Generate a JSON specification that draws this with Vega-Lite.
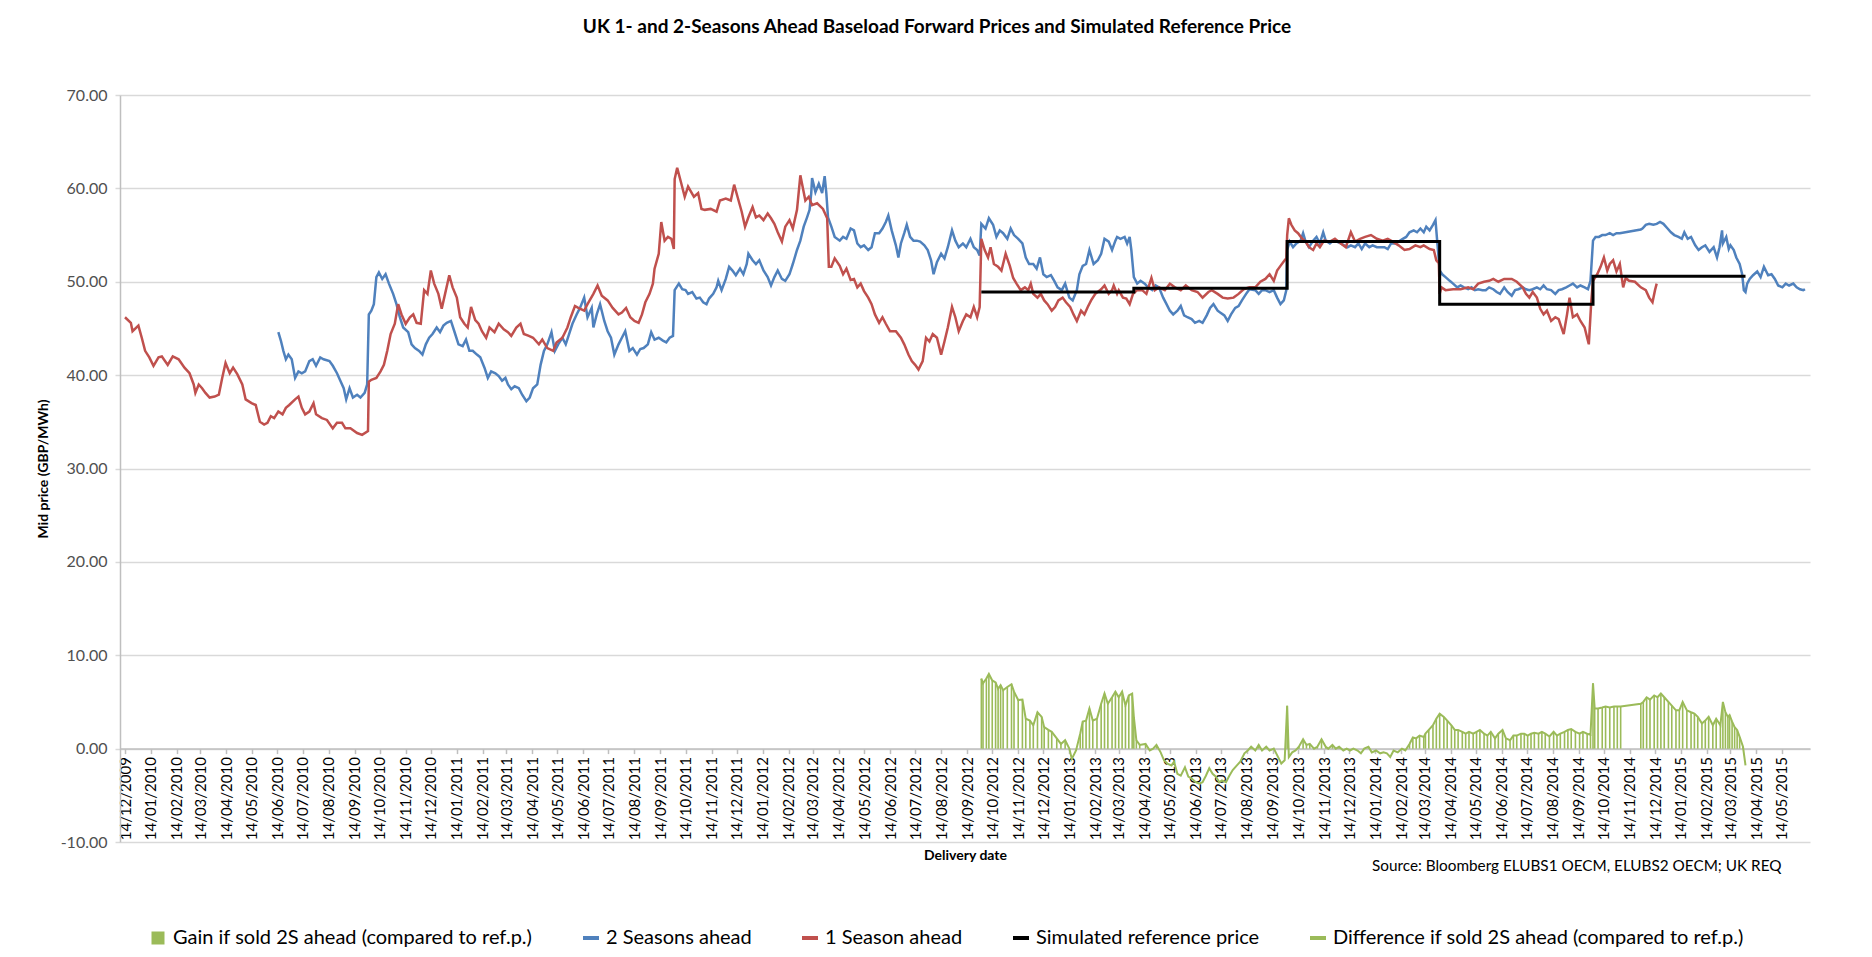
{
  "$schema": "https://vega.github.io/schema/vega-lite/v6.json",
  "autosize": "none",
  "width": 1690,
  "height": 747,
  "padding": {"left": 120, "top": 95, "right": 62, "bottom": 115},
  "background": "white",
  "config": {"font": "Lato", "view": {"stroke": null}},
  "title": {"text": "UK 1- and 2-Seasons Ahead Baseload Forward Prices and Simulated Reference Price", "fontSize": 19, "font": "Lato", "fontWeight": "bold", "color": "#000000", "anchor": "middle", "offset": 50, "dx": -28},
  "datasets": {
    "red": [
      {"d":"2009-12-14","v":46.2},{"d":"2009-12-21","v":45.6},{"d":"2009-12-23","v":44.7},{"d":"2009-12-30","v":45.3},{"d":"2010-01-03","v":44.0},{"d":"2010-01-07","v":42.6},{"d":"2010-01-12","v":41.9},{"d":"2010-01-17","v":41.0},{"d":"2010-01-23","v":41.9},{"d":"2010-01-27","v":42.0},{"d":"2010-02-03","v":41.1},{"d":"2010-02-09","v":42.0},{"d":"2010-02-16","v":41.7},{"d":"2010-02-23","v":40.8},{"d":"2010-03-01","v":40.2},{"d":"2010-03-06","v":39.0},{"d":"2010-03-08","v":38.1},{"d":"2010-03-12","v":39.0},{"d":"2010-03-16","v":38.6},{"d":"2010-03-20","v":38.1},{"d":"2010-03-25","v":37.6},{"d":"2010-03-31","v":37.7},{"d":"2010-04-05","v":37.9},{"d":"2010-04-09","v":39.7},{"d":"2010-04-13","v":41.3},{"d":"2010-04-18","v":40.2},{"d":"2010-04-22","v":40.8},{"d":"2010-04-27","v":40.1},{"d":"2010-05-03","v":39.0},{"d":"2010-05-07","v":37.4},{"d":"2010-05-14","v":37.0},{"d":"2010-05-19","v":36.8},{"d":"2010-05-24","v":35.0},{"d":"2010-05-29","v":34.7},{"d":"2010-06-02","v":34.9},{"d":"2010-06-06","v":35.6},{"d":"2010-06-10","v":35.4},{"d":"2010-06-15","v":36.1},{"d":"2010-06-20","v":35.8},{"d":"2010-06-24","v":36.5},{"d":"2010-06-28","v":36.8},{"d":"2010-07-05","v":37.4},{"d":"2010-07-09","v":37.7},{"d":"2010-07-13","v":36.5},{"d":"2010-07-17","v":35.8},{"d":"2010-07-22","v":36.1},{"d":"2010-07-27","v":37.0},{"d":"2010-07-30","v":35.8},{"d":"2010-08-06","v":35.4},{"d":"2010-08-12","v":35.2},{"d":"2010-08-19","v":34.3},{"d":"2010-08-24","v":34.9},{"d":"2010-08-30","v":34.9},{"d":"2010-09-03","v":34.3},{"d":"2010-09-09","v":34.3},{"d":"2010-09-17","v":33.8},{"d":"2010-09-23","v":33.6},{"d":"2010-09-30","v":34.0},{"d":"2010-10-01","v":39.3},{"d":"2010-10-04","v":39.5},{"d":"2010-10-10","v":39.7},{"d":"2010-10-15","v":40.4},{"d":"2010-10-19","v":41.1},{"d":"2010-10-23","v":42.6},{"d":"2010-10-27","v":44.4},{"d":"2010-11-01","v":45.5},{"d":"2010-11-05","v":47.6},{"d":"2010-11-09","v":46.5},{"d":"2010-11-14","v":45.5},{"d":"2010-11-19","v":46.2},{"d":"2010-11-23","v":46.5},{"d":"2010-11-27","v":45.6},{"d":"2010-12-02","v":45.5},{"d":"2010-12-06","v":49.1},{"d":"2010-12-10","v":48.7},{"d":"2010-12-14","v":51.2},{"d":"2010-12-18","v":49.8},{"d":"2010-12-23","v":48.7},{"d":"2010-12-27","v":47.1},{"d":"2010-12-31","v":48.7},{"d":"2011-01-05","v":50.7},{"d":"2011-01-09","v":49.4},{"d":"2011-01-14","v":48.3},{"d":"2011-01-18","v":46.2},{"d":"2011-01-23","v":45.5},{"d":"2011-01-27","v":45.1},{"d":"2011-01-31","v":47.3},{"d":"2011-02-05","v":45.9},{"d":"2011-02-09","v":45.5},{"d":"2011-02-13","v":44.7},{"d":"2011-02-18","v":44.0},{"d":"2011-02-22","v":45.1},{"d":"2011-02-28","v":44.6},{"d":"2011-03-05","v":45.5},{"d":"2011-03-11","v":44.9},{"d":"2011-03-16","v":44.6},{"d":"2011-03-20","v":44.2},{"d":"2011-03-26","v":45.1},{"d":"2011-03-31","v":45.5},{"d":"2011-04-04","v":44.4},{"d":"2011-04-10","v":44.2},{"d":"2011-04-15","v":44.0},{"d":"2011-04-22","v":43.3},{"d":"2011-04-26","v":43.8},{"d":"2011-05-02","v":42.9},{"d":"2011-05-09","v":42.6},{"d":"2011-05-13","v":43.5},{"d":"2011-05-20","v":44.0},{"d":"2011-05-26","v":45.1},{"d":"2011-05-30","v":46.2},{"d":"2011-06-04","v":47.4},{"d":"2011-06-08","v":47.2},{"d":"2011-06-15","v":46.9},{"d":"2011-06-19","v":47.6},{"d":"2011-06-26","v":48.7},{"d":"2011-07-01","v":49.6},{"d":"2011-07-06","v":48.5},{"d":"2011-07-13","v":48.0},{"d":"2011-07-19","v":47.2},{"d":"2011-07-26","v":46.5},{"d":"2011-07-30","v":46.7},{"d":"2011-08-04","v":47.2},{"d":"2011-08-09","v":46.2},{"d":"2011-08-14","v":45.8},{"d":"2011-08-19","v":45.6},{"d":"2011-08-23","v":46.5},{"d":"2011-08-27","v":47.8},{"d":"2011-09-01","v":48.7},{"d":"2011-09-05","v":49.8},{"d":"2011-09-07","v":51.4},{"d":"2011-09-12","v":53.0},{"d":"2011-09-15","v":56.4},{"d":"2011-09-19","v":54.4},{"d":"2011-09-23","v":54.8},{"d":"2011-09-27","v":54.6},{"d":"2011-09-30","v":53.5},{"d":"2011-10-01","v":61.0},{"d":"2011-10-04","v":62.2},{"d":"2011-10-09","v":60.5},{"d":"2011-10-13","v":59.1},{"d":"2011-10-17","v":60.2},{"d":"2011-10-24","v":59.1},{"d":"2011-10-29","v":59.5},{"d":"2011-11-02","v":57.8},{"d":"2011-11-06","v":57.7},{"d":"2011-11-13","v":57.8},{"d":"2011-11-20","v":57.5},{"d":"2011-11-24","v":58.7},{"d":"2011-12-01","v":58.9},{"d":"2011-12-07","v":58.7},{"d":"2011-12-11","v":60.4},{"d":"2011-12-15","v":59.1},{"d":"2011-12-20","v":57.5},{"d":"2011-12-24","v":55.9},{"d":"2011-12-28","v":56.9},{"d":"2012-01-02","v":58.0},{"d":"2012-01-06","v":56.9},{"d":"2012-01-10","v":57.1},{"d":"2012-01-15","v":56.6},{"d":"2012-01-20","v":57.3},{"d":"2012-01-24","v":56.8},{"d":"2012-01-28","v":56.2},{"d":"2012-02-01","v":55.3},{"d":"2012-02-06","v":54.3},{"d":"2012-02-10","v":55.9},{"d":"2012-02-15","v":56.6},{"d":"2012-02-19","v":55.7},{"d":"2012-02-24","v":57.7},{"d":"2012-02-28","v":61.4},{"d":"2012-03-01","v":60.5},{"d":"2012-03-05","v":58.7},{"d":"2012-03-09","v":59.1},{"d":"2012-03-13","v":58.2},{"d":"2012-03-19","v":58.4},{"d":"2012-03-26","v":57.8},{"d":"2012-03-31","v":56.8},{"d":"2012-04-02","v":51.6},{"d":"2012-04-05","v":51.6},{"d":"2012-04-09","v":52.5},{"d":"2012-04-15","v":51.7},{"d":"2012-04-19","v":50.8},{"d":"2012-04-23","v":51.4},{"d":"2012-04-28","v":50.2},{"d":"2012-05-02","v":50.3},{"d":"2012-05-06","v":49.4},{"d":"2012-05-10","v":49.8},{"d":"2012-05-14","v":49.0},{"d":"2012-05-19","v":48.3},{"d":"2012-05-23","v":47.6},{"d":"2012-05-27","v":46.5},{"d":"2012-06-01","v":45.6},{"d":"2012-06-05","v":46.2},{"d":"2012-06-09","v":45.5},{"d":"2012-06-14","v":44.7},{"d":"2012-06-21","v":44.7},{"d":"2012-06-27","v":44.0},{"d":"2012-07-01","v":43.3},{"d":"2012-07-06","v":42.2},{"d":"2012-07-10","v":41.5},{"d":"2012-07-14","v":41.1},{"d":"2012-07-18","v":40.6},{"d":"2012-07-23","v":41.5},{"d":"2012-07-27","v":44.0},{"d":"2012-07-31","v":43.6},{"d":"2012-08-04","v":44.4},{"d":"2012-08-09","v":44.0},{"d":"2012-08-14","v":42.2},{"d":"2012-08-18","v":43.6},{"d":"2012-08-22","v":45.1},{"d":"2012-08-27","v":47.3},{"d":"2012-08-31","v":46.2},{"d":"2012-09-04","v":44.7},{"d":"2012-09-09","v":45.8},{"d":"2012-09-13","v":46.5},{"d":"2012-09-18","v":46.2},{"d":"2012-09-22","v":47.3},{"d":"2012-09-26","v":46.2},{"d":"2012-09-29","v":47.3},{"d":"2012-10-01","v":54.6},{"d":"2012-10-05","v":53.4},{"d":"2012-10-09","v":52.6},{"d":"2012-10-12","v":53.7},{"d":"2012-10-16","v":51.9},{"d":"2012-10-21","v":51.6},{"d":"2012-10-25","v":51.2},{"d":"2012-10-30","v":53.0},{"d":"2012-11-04","v":51.7},{"d":"2012-11-08","v":50.4},{"d":"2012-11-12","v":49.8},{"d":"2012-11-17","v":49.1},{"d":"2012-11-22","v":49.4},{"d":"2012-11-26","v":49.1},{"d":"2012-11-29","v":49.8},{"d":"2012-12-02","v":48.7},{"d":"2012-12-07","v":48.3},{"d":"2012-12-11","v":48.7},{"d":"2012-12-15","v":48.0},{"d":"2012-12-19","v":47.6},{"d":"2012-12-24","v":46.9},{"d":"2012-12-28","v":47.3},{"d":"2013-01-01","v":48.0},{"d":"2013-01-06","v":48.3},{"d":"2013-01-10","v":47.8},{"d":"2013-01-15","v":47.3},{"d":"2013-01-19","v":46.5},{"d":"2013-01-23","v":45.8},{"d":"2013-01-28","v":46.9},{"d":"2013-02-01","v":46.5},{"d":"2013-02-05","v":47.3},{"d":"2013-02-09","v":48.0},{"d":"2013-02-14","v":48.7},{"d":"2013-02-21","v":49.2},{"d":"2013-02-25","v":49.6},{"d":"2013-03-02","v":48.7},{"d":"2013-03-06","v":49.1},{"d":"2013-03-08","v":49.6},{"d":"2013-03-12","v":48.7},{"d":"2013-03-14","v":49.1},{"d":"2013-03-19","v":48.3},{"d":"2013-03-23","v":48.2},{"d":"2013-03-27","v":47.6},{"d":"2013-03-31","v":48.7},{"d":"2013-04-05","v":49.1},{"d":"2013-04-11","v":49.1},{"d":"2013-04-16","v":48.7},{"d":"2013-04-22","v":50.4},{"d":"2013-04-26","v":49.1},{"d":"2013-05-01","v":49.4},{"d":"2013-05-08","v":49.1},{"d":"2013-05-14","v":49.8},{"d":"2013-05-20","v":49.4},{"d":"2013-05-27","v":49.1},{"d":"2013-06-02","v":49.6},{"d":"2013-06-09","v":49.1},{"d":"2013-06-16","v":48.9},{"d":"2013-06-22","v":48.3},{"d":"2013-06-29","v":48.9},{"d":"2013-07-03","v":49.1},{"d":"2013-07-10","v":48.7},{"d":"2013-07-16","v":48.3},{"d":"2013-07-22","v":48.2},{"d":"2013-07-29","v":48.3},{"d":"2013-08-04","v":48.7},{"d":"2013-08-10","v":49.2},{"d":"2013-08-17","v":49.4},{"d":"2013-08-24","v":49.4},{"d":"2013-08-30","v":50.0},{"d":"2013-09-05","v":50.3},{"d":"2013-09-10","v":50.8},{"d":"2013-09-15","v":50.1},{"d":"2013-09-19","v":51.2},{"d":"2013-09-23","v":51.7},{"d":"2013-09-28","v":52.3},{"d":"2013-09-30","v":52.5},{"d":"2013-10-01","v":55.0},{"d":"2013-10-03","v":56.8},{"d":"2013-10-06","v":56.1},{"d":"2013-10-10","v":55.5},{"d":"2013-10-14","v":55.2},{"d":"2013-10-19","v":54.6},{"d":"2013-10-23","v":54.3},{"d":"2013-10-27","v":53.7},{"d":"2013-11-01","v":53.4},{"d":"2013-11-05","v":54.1},{"d":"2013-11-09","v":53.7},{"d":"2013-11-14","v":54.4},{"d":"2013-11-21","v":54.3},{"d":"2013-11-27","v":54.6},{"d":"2013-12-04","v":54.1},{"d":"2013-12-10","v":53.7},{"d":"2013-12-16","v":55.3},{"d":"2013-12-21","v":54.3},{"d":"2013-12-27","v":54.6},{"d":"2014-01-02","v":54.8},{"d":"2014-01-09","v":55.0},{"d":"2014-01-16","v":54.6},{"d":"2014-01-23","v":54.4},{"d":"2014-01-29","v":54.6},{"d":"2014-02-04","v":54.3},{"d":"2014-02-11","v":53.9},{"d":"2014-02-18","v":53.4},{"d":"2014-02-24","v":53.5},{"d":"2014-03-03","v":53.9},{"d":"2014-03-09","v":53.7},{"d":"2014-03-13","v":53.9},{"d":"2014-03-20","v":53.5},{"d":"2014-03-25","v":53.4},{"d":"2014-03-28","v":52.3},{"d":"2014-03-31","v":52.0},{"d":"2014-04-01","v":48.7},{"d":"2014-04-03","v":49.4},{"d":"2014-04-08","v":49.1},{"d":"2014-04-17","v":49.2},{"d":"2014-04-26","v":49.2},{"d":"2014-05-05","v":49.4},{"d":"2014-05-11","v":49.2},{"d":"2014-05-17","v":49.8},{"d":"2014-05-24","v":50.0},{"d":"2014-05-30","v":50.1},{"d":"2014-06-04","v":50.3},{"d":"2014-06-10","v":50.0},{"d":"2014-06-17","v":50.3},{"d":"2014-06-26","v":50.3},{"d":"2014-07-02","v":50.0},{"d":"2014-07-09","v":49.4},{"d":"2014-07-13","v":48.7},{"d":"2014-07-17","v":48.3},{"d":"2014-07-21","v":48.9},{"d":"2014-07-26","v":48.3},{"d":"2014-07-30","v":47.1},{"d":"2014-08-03","v":46.5},{"d":"2014-08-07","v":46.9},{"d":"2014-08-12","v":45.8},{"d":"2014-08-17","v":46.2},{"d":"2014-08-21","v":46.0},{"d":"2014-08-27","v":44.4},{"d":"2014-08-31","v":46.5},{"d":"2014-09-03","v":48.3},{"d":"2014-09-07","v":46.2},{"d":"2014-09-12","v":46.5},{"d":"2014-09-16","v":45.8},{"d":"2014-09-21","v":45.1},{"d":"2014-09-24","v":44.0},{"d":"2014-09-26","v":43.3},{"d":"2014-09-29","v":48.0},{"d":"2014-10-01","v":50.1},{"d":"2014-10-06","v":50.8},{"d":"2014-10-10","v":51.6},{"d":"2014-10-14","v":52.6},{"d":"2014-10-18","v":51.2},{"d":"2014-10-21","v":51.9},{"d":"2014-10-25","v":52.3},{"d":"2014-10-29","v":51.1},{"d":"2014-11-02","v":51.9},{"d":"2014-11-06","v":49.4},{"d":"2014-11-09","v":50.4},{"d":"2014-11-13","v":50.1},{"d":"2014-11-20","v":50.0},{"d":"2014-11-27","v":49.4},{"d":"2014-12-03","v":49.1},{"d":"2014-12-07","v":48.3},{"d":"2014-12-11","v":47.8},{"d":"2014-12-14","v":49.1},{"d":"2014-12-16","v":49.8}
    ],
    "blue": [
      {"d":"2010-06-15","v":44.6},{"d":"2010-06-18","v":43.7},{"d":"2010-06-21","v":42.6},{"d":"2010-06-24","v":41.7},{"d":"2010-06-27","v":42.2},{"d":"2010-07-01","v":41.7},{"d":"2010-07-05","v":39.7},{"d":"2010-07-09","v":40.4},{"d":"2010-07-13","v":40.2},{"d":"2010-07-17","v":40.4},{"d":"2010-07-22","v":41.5},{"d":"2010-07-26","v":41.7},{"d":"2010-07-30","v":41.0},{"d":"2010-08-04","v":41.9},{"d":"2010-08-08","v":41.7},{"d":"2010-08-15","v":41.5},{"d":"2010-08-19","v":41.0},{"d":"2010-08-24","v":40.2},{"d":"2010-08-28","v":39.4},{"d":"2010-09-01","v":38.6},{"d":"2010-09-04","v":37.4},{"d":"2010-09-08","v":38.6},{"d":"2010-09-12","v":37.6},{"d":"2010-09-17","v":37.9},{"d":"2010-09-21","v":37.6},{"d":"2010-09-26","v":38.1},{"d":"2010-09-29","v":39.0},{"d":"2010-10-01","v":46.5},{"d":"2010-10-04","v":46.9},{"d":"2010-10-07","v":47.6},{"d":"2010-10-10","v":50.5},{"d":"2010-10-13","v":51.0},{"d":"2010-10-17","v":50.3},{"d":"2010-10-21","v":50.8},{"d":"2010-10-25","v":49.8},{"d":"2010-10-30","v":48.7},{"d":"2010-11-03","v":47.6},{"d":"2010-11-07","v":46.2},{"d":"2010-11-11","v":45.1},{"d":"2010-11-17","v":44.6},{"d":"2010-11-21","v":43.3},{"d":"2010-11-25","v":42.9},{"d":"2010-11-30","v":42.6},{"d":"2010-12-04","v":42.2},{"d":"2010-12-08","v":43.3},{"d":"2010-12-12","v":44.0},{"d":"2010-12-16","v":44.4},{"d":"2010-12-21","v":45.1},{"d":"2010-12-25","v":44.6},{"d":"2010-12-29","v":45.3},{"d":"2011-01-02","v":45.6},{"d":"2011-01-07","v":45.8},{"d":"2011-01-11","v":44.7},{"d":"2011-01-16","v":43.3},{"d":"2011-01-21","v":43.1},{"d":"2011-01-25","v":43.8},{"d":"2011-01-29","v":42.6},{"d":"2011-02-02","v":42.6},{"d":"2011-02-07","v":42.2},{"d":"2011-02-11","v":41.9},{"d":"2011-02-16","v":40.8},{"d":"2011-02-20","v":39.7},{"d":"2011-02-24","v":40.4},{"d":"2011-03-01","v":40.2},{"d":"2011-03-05","v":39.9},{"d":"2011-03-09","v":39.4},{"d":"2011-03-13","v":39.7},{"d":"2011-03-16","v":39.0},{"d":"2011-03-20","v":38.5},{"d":"2011-03-24","v":38.8},{"d":"2011-03-29","v":38.6},{"d":"2011-04-02","v":37.9},{"d":"2011-04-07","v":37.2},{"d":"2011-04-11","v":37.6},{"d":"2011-04-15","v":38.6},{"d":"2011-04-20","v":39.0},{"d":"2011-04-24","v":41.1},{"d":"2011-04-28","v":42.6},{"d":"2011-05-02","v":43.3},{"d":"2011-05-07","v":44.6},{"d":"2011-05-11","v":42.6},{"d":"2011-05-15","v":43.3},{"d":"2011-05-20","v":44.0},{"d":"2011-05-24","v":43.3},{"d":"2011-05-28","v":44.4},{"d":"2011-06-01","v":45.5},{"d":"2011-06-06","v":46.5},{"d":"2011-06-10","v":47.2},{"d":"2011-06-15","v":48.3},{"d":"2011-06-19","v":46.2},{"d":"2011-06-24","v":47.2},{"d":"2011-06-26","v":45.1},{"d":"2011-06-30","v":46.5},{"d":"2011-07-04","v":47.6},{"d":"2011-07-09","v":45.8},{"d":"2011-07-13","v":44.7},{"d":"2011-07-17","v":44.0},{"d":"2011-07-21","v":42.2},{"d":"2011-07-26","v":43.3},{"d":"2011-07-30","v":44.0},{"d":"2011-08-03","v":44.7},{"d":"2011-08-08","v":42.6},{"d":"2011-08-12","v":42.9},{"d":"2011-08-17","v":42.2},{"d":"2011-08-21","v":42.8},{"d":"2011-08-25","v":42.9},{"d":"2011-08-30","v":43.3},{"d":"2011-09-03","v":44.6},{"d":"2011-09-07","v":43.8},{"d":"2011-09-12","v":44.0},{"d":"2011-09-17","v":43.7},{"d":"2011-09-21","v":43.5},{"d":"2011-09-25","v":44.0},{"d":"2011-09-29","v":44.2},{"d":"2011-10-01","v":49.1},{"d":"2011-10-06","v":49.8},{"d":"2011-10-10","v":49.2},{"d":"2011-10-14","v":49.1},{"d":"2011-10-17","v":48.7},{"d":"2011-10-22","v":48.9},{"d":"2011-10-27","v":48.2},{"d":"2011-10-31","v":48.3},{"d":"2011-11-04","v":47.8},{"d":"2011-11-08","v":47.6},{"d":"2011-11-11","v":48.2},{"d":"2011-11-16","v":48.7},{"d":"2011-11-20","v":49.4},{"d":"2011-11-22","v":50.1},{"d":"2011-11-26","v":49.1},{"d":"2011-12-01","v":50.3},{"d":"2011-12-05","v":51.6},{"d":"2011-12-09","v":51.2},{"d":"2011-12-13","v":50.7},{"d":"2011-12-18","v":51.4},{"d":"2011-12-22","v":50.8},{"d":"2011-12-26","v":51.9},{"d":"2011-12-28","v":53.0},{"d":"2012-01-02","v":52.3},{"d":"2012-01-06","v":51.9},{"d":"2012-01-10","v":52.3},{"d":"2012-01-15","v":51.2},{"d":"2012-01-20","v":50.5},{"d":"2012-01-24","v":49.6},{"d":"2012-01-28","v":50.5},{"d":"2012-02-01","v":51.2},{"d":"2012-02-06","v":50.3},{"d":"2012-02-10","v":50.1},{"d":"2012-02-15","v":50.8},{"d":"2012-02-19","v":51.9},{"d":"2012-02-24","v":53.4},{"d":"2012-02-28","v":54.4},{"d":"2012-03-03","v":55.9},{"d":"2012-03-07","v":56.9},{"d":"2012-03-10","v":57.7},{"d":"2012-03-12","v":59.5},{"d":"2012-03-13","v":61.1},{"d":"2012-03-17","v":59.6},{"d":"2012-03-21","v":60.5},{"d":"2012-03-25","v":59.5},{"d":"2012-03-28","v":61.3},{"d":"2012-03-30","v":59.5},{"d":"2012-04-01","v":56.9},{"d":"2012-04-05","v":55.9},{"d":"2012-04-09","v":54.8},{"d":"2012-04-15","v":54.4},{"d":"2012-04-19","v":54.8},{"d":"2012-04-23","v":54.6},{"d":"2012-04-28","v":55.7},{"d":"2012-05-02","v":55.5},{"d":"2012-05-06","v":54.1},{"d":"2012-05-10","v":53.7},{"d":"2012-05-14","v":53.9},{"d":"2012-05-19","v":53.4},{"d":"2012-05-23","v":53.7},{"d":"2012-05-27","v":55.2},{"d":"2012-06-01","v":55.2},{"d":"2012-06-05","v":55.7},{"d":"2012-06-09","v":56.4},{"d":"2012-06-12","v":57.1},{"d":"2012-06-16","v":55.5},{"d":"2012-06-21","v":53.9},{"d":"2012-06-24","v":52.6},{"d":"2012-06-27","v":54.1},{"d":"2012-07-01","v":55.2},{"d":"2012-07-04","v":56.1},{"d":"2012-07-08","v":54.8},{"d":"2012-07-12","v":54.4},{"d":"2012-07-16","v":54.4},{"d":"2012-07-20","v":54.3},{"d":"2012-07-25","v":53.9},{"d":"2012-07-29","v":53.4},{"d":"2012-08-02","v":52.3},{"d":"2012-08-05","v":50.8},{"d":"2012-08-09","v":52.1},{"d":"2012-08-14","v":53.0},{"d":"2012-08-18","v":52.5},{"d":"2012-08-22","v":53.7},{"d":"2012-08-27","v":55.5},{"d":"2012-08-31","v":54.4},{"d":"2012-09-04","v":53.7},{"d":"2012-09-09","v":54.1},{"d":"2012-09-13","v":53.7},{"d":"2012-09-18","v":54.6},{"d":"2012-09-22","v":53.7},{"d":"2012-09-26","v":53.4},{"d":"2012-09-29","v":52.8},{"d":"2012-10-01","v":56.2},{"d":"2012-10-06","v":55.7},{"d":"2012-10-10","v":56.8},{"d":"2012-10-15","v":56.1},{"d":"2012-10-19","v":54.8},{"d":"2012-10-23","v":55.5},{"d":"2012-10-27","v":55.2},{"d":"2012-11-01","v":54.6},{"d":"2012-11-05","v":55.7},{"d":"2012-11-09","v":55.0},{"d":"2012-11-14","v":54.6},{"d":"2012-11-19","v":54.1},{"d":"2012-11-23","v":52.6},{"d":"2012-11-27","v":51.9},{"d":"2012-12-02","v":51.9},{"d":"2012-12-06","v":51.4},{"d":"2012-12-10","v":52.6},{"d":"2012-12-14","v":50.8},{"d":"2012-12-18","v":50.5},{"d":"2012-12-23","v":50.7},{"d":"2012-12-27","v":50.1},{"d":"2012-12-31","v":49.4},{"d":"2013-01-05","v":49.1},{"d":"2013-01-09","v":49.8},{"d":"2013-01-14","v":48.3},{"d":"2013-01-18","v":48.0},{"d":"2013-01-23","v":49.1},{"d":"2013-01-26","v":50.8},{"d":"2013-01-30","v":51.7},{"d":"2013-02-03","v":51.9},{"d":"2013-02-07","v":53.4},{"d":"2013-02-12","v":51.9},{"d":"2013-02-17","v":52.3},{"d":"2013-02-21","v":53.0},{"d":"2013-02-25","v":54.6},{"d":"2013-03-02","v":54.3},{"d":"2013-03-06","v":53.4},{"d":"2013-03-10","v":54.4},{"d":"2013-03-12","v":54.8},{"d":"2013-03-16","v":54.6},{"d":"2013-03-21","v":54.8},{"d":"2013-03-24","v":54.1},{"d":"2013-03-27","v":54.8},{"d":"2013-03-29","v":53.4},{"d":"2013-04-01","v":50.5},{"d":"2013-04-05","v":49.8},{"d":"2013-04-09","v":50.1},{"d":"2013-04-14","v":49.8},{"d":"2013-04-18","v":49.4},{"d":"2013-04-23","v":49.1},{"d":"2013-04-27","v":49.6},{"d":"2013-05-01","v":49.4},{"d":"2013-05-06","v":48.3},{"d":"2013-05-10","v":47.6},{"d":"2013-05-14","v":46.9},{"d":"2013-05-18","v":46.5},{"d":"2013-05-23","v":46.9},{"d":"2013-05-27","v":47.4},{"d":"2013-05-31","v":46.4},{"d":"2013-06-04","v":46.2},{"d":"2013-06-09","v":46.0},{"d":"2013-06-13","v":45.6},{"d":"2013-06-18","v":45.8},{"d":"2013-06-22","v":45.6},{"d":"2013-06-27","v":46.4},{"d":"2013-07-01","v":47.2},{"d":"2013-07-05","v":47.6},{"d":"2013-07-10","v":46.9},{"d":"2013-07-13","v":46.7},{"d":"2013-07-18","v":46.4},{"d":"2013-07-22","v":45.8},{"d":"2013-07-26","v":46.5},{"d":"2013-07-31","v":47.2},{"d":"2013-08-04","v":47.4},{"d":"2013-08-08","v":48.0},{"d":"2013-08-13","v":48.7},{"d":"2013-08-17","v":49.2},{"d":"2013-08-24","v":49.1},{"d":"2013-08-28","v":48.7},{"d":"2013-09-01","v":49.1},{"d":"2013-09-05","v":49.1},{"d":"2013-09-10","v":48.9},{"d":"2013-09-15","v":49.1},{"d":"2013-09-19","v":48.3},{"d":"2013-09-23","v":47.6},{"d":"2013-09-27","v":48.0},{"d":"2013-09-30","v":49.1},{"d":"2013-10-01","v":53.4},{"d":"2013-10-04","v":54.3},{"d":"2013-10-08","v":53.7},{"d":"2013-10-12","v":54.1},{"d":"2013-10-17","v":54.4},{"d":"2013-10-20","v":55.2},{"d":"2013-10-23","v":54.3},{"d":"2013-10-27","v":53.7},{"d":"2013-11-01","v":54.4},{"d":"2013-11-05","v":54.8},{"d":"2013-11-09","v":54.1},{"d":"2013-11-13","v":55.3},{"d":"2013-11-16","v":54.4},{"d":"2013-11-21","v":54.1},{"d":"2013-11-25","v":54.4},{"d":"2013-11-29","v":54.3},{"d":"2013-12-04","v":54.1},{"d":"2013-12-08","v":53.9},{"d":"2013-12-12","v":53.7},{"d":"2013-12-16","v":53.9},{"d":"2013-12-21","v":53.7},{"d":"2013-12-25","v":54.1},{"d":"2013-12-29","v":53.5},{"d":"2014-01-02","v":54.1},{"d":"2014-01-07","v":53.7},{"d":"2014-01-11","v":53.9},{"d":"2014-01-16","v":53.7},{"d":"2014-01-20","v":53.7},{"d":"2014-01-25","v":53.7},{"d":"2014-01-29","v":53.5},{"d":"2014-02-02","v":54.1},{"d":"2014-02-07","v":54.1},{"d":"2014-02-11","v":54.3},{"d":"2014-02-16","v":54.6},{"d":"2014-02-20","v":54.8},{"d":"2014-02-24","v":55.3},{"d":"2014-03-01","v":55.5},{"d":"2014-03-05","v":55.3},{"d":"2014-03-09","v":55.7},{"d":"2014-03-13","v":55.3},{"d":"2014-03-16","v":55.9},{"d":"2014-03-20","v":55.5},{"d":"2014-03-24","v":56.1},{"d":"2014-03-27","v":56.6},{"d":"2014-03-29","v":54.4},{"d":"2014-04-01","v":51.2},{"d":"2014-04-04","v":50.8},{"d":"2014-04-08","v":50.5},{"d":"2014-04-13","v":50.1},{"d":"2014-04-17","v":49.8},{"d":"2014-04-22","v":49.4},{"d":"2014-04-26","v":49.6},{"d":"2014-04-30","v":49.4},{"d":"2014-05-05","v":49.2},{"d":"2014-05-09","v":49.4},{"d":"2014-05-13","v":49.1},{"d":"2014-05-17","v":49.2},{"d":"2014-05-22","v":49.1},{"d":"2014-05-26","v":49.1},{"d":"2014-05-30","v":49.4},{"d":"2014-06-04","v":49.2},{"d":"2014-06-08","v":48.9},{"d":"2014-06-12","v":48.7},{"d":"2014-06-17","v":49.4},{"d":"2014-06-21","v":48.9},{"d":"2014-06-26","v":48.5},{"d":"2014-06-30","v":49.1},{"d":"2014-07-04","v":49.2},{"d":"2014-07-09","v":49.4},{"d":"2014-07-13","v":49.2},{"d":"2014-07-17","v":49.1},{"d":"2014-07-21","v":49.2},{"d":"2014-07-26","v":49.4},{"d":"2014-07-30","v":49.2},{"d":"2014-08-03","v":49.6},{"d":"2014-08-07","v":49.2},{"d":"2014-08-12","v":49.1},{"d":"2014-08-17","v":48.7},{"d":"2014-08-21","v":49.1},{"d":"2014-08-25","v":49.2},{"d":"2014-08-30","v":49.4},{"d":"2014-09-03","v":49.6},{"d":"2014-09-07","v":49.8},{"d":"2014-09-12","v":49.4},{"d":"2014-09-16","v":49.6},{"d":"2014-09-21","v":49.4},{"d":"2014-09-25","v":49.2},{"d":"2014-09-28","v":50.1},{"d":"2014-10-01","v":54.4},{"d":"2014-10-04","v":54.8},{"d":"2014-10-08","v":54.8},{"d":"2014-10-12","v":55.0},{"d":"2014-10-16","v":55.0},{"d":"2014-10-21","v":55.2},{"d":"2014-10-25","v":55.0},{"d":"2014-10-29","v":55.2},{"d":"2014-11-02","v":55.2},{"d":"2014-11-27","v":55.6},{"d":"2014-11-29","v":55.7},{"d":"2014-12-03","v":56.1},{"d":"2014-12-07","v":56.2},{"d":"2014-12-12","v":56.1},{"d":"2014-12-16","v":56.2},{"d":"2014-12-20","v":56.4},{"d":"2014-12-24","v":56.2},{"d":"2014-12-29","v":55.7},{"d":"2015-01-02","v":55.3},{"d":"2015-01-06","v":55.0},{"d":"2015-01-11","v":54.8},{"d":"2015-01-15","v":54.6},{"d":"2015-01-18","v":55.3},{"d":"2015-01-22","v":54.6},{"d":"2015-01-26","v":54.8},{"d":"2015-01-31","v":53.9},{"d":"2015-02-04","v":53.4},{"d":"2015-02-08","v":53.7},{"d":"2015-02-12","v":53.9},{"d":"2015-02-17","v":53.2},{"d":"2015-02-22","v":53.7},{"d":"2015-02-26","v":52.6},{"d":"2015-03-01","v":53.7},{"d":"2015-03-04","v":55.5},{"d":"2015-03-05","v":54.1},{"d":"2015-03-09","v":54.8},{"d":"2015-03-12","v":53.5},{"d":"2015-03-14","v":53.9},{"d":"2015-03-18","v":53.4},{"d":"2015-03-21","v":52.6},{"d":"2015-03-25","v":51.9},{"d":"2015-03-28","v":50.8},{"d":"2015-03-30","v":49.1},{"d":"2015-04-01","v":48.9},{"d":"2015-04-03","v":49.8},{"d":"2015-04-06","v":50.3},{"d":"2015-04-10","v":50.7},{"d":"2015-04-15","v":51.1},{"d":"2015-04-19","v":50.5},{"d":"2015-04-23","v":51.6},{"d":"2015-04-28","v":50.7},{"d":"2015-05-02","v":50.8},{"d":"2015-05-06","v":50.3},{"d":"2015-05-10","v":49.6},{"d":"2015-05-15","v":49.4},{"d":"2015-05-19","v":49.8},{"d":"2015-05-23","v":49.6},{"d":"2015-05-28","v":49.8},{"d":"2015-06-01","v":49.4},{"d":"2015-06-05","v":49.2},{"d":"2015-06-09","v":49.1},{"d":"2015-06-11","v":49.2}
    ],
    "ref": [
      {"d":"2012-10-01","v":48.9},{"d":"2013-04-01","v":49.3},{"d":"2013-10-01","v":54.3},{"d":"2014-04-01","v":47.6},{"d":"2014-10-01","v":50.6},{"d":"2015-04-01","v":50.6}
    ],
    "diff": [
      {"d":"2012-10-01","v":7.5},{"d":"2012-10-03","v":7.0},{"d":"2012-10-07","v":7.5},{"d":"2012-10-10","v":8.0},{"d":"2012-10-14","v":7.3},{"d":"2012-10-18","v":7.1},{"d":"2012-10-21","v":6.4},{"d":"2012-10-24","v":6.8},{"d":"2012-10-27","v":6.25},{"d":"2012-11-01","v":6.6},{"d":"2012-11-06","v":6.9},{"d":"2012-11-09","v":6.1},{"d":"2012-11-14","v":5.2},{"d":"2012-11-19","v":5.25},{"d":"2012-11-23","v":3.2},{"d":"2012-11-28","v":3.0},{"d":"2012-12-02","v":2.5},{"d":"2012-12-07","v":3.9},{"d":"2012-12-12","v":3.4},{"d":"2012-12-15","v":2.3},{"d":"2012-12-20","v":2.0},{"d":"2012-12-24","v":1.8},{"d":"2012-12-30","v":1.1},{"d":"2013-01-04","v":0.5},{"d":"2013-01-09","v":0.9},{"d":"2013-01-14","v":0.0},{"d":"2013-01-17","v":-1.1},{"d":"2013-01-22","v":-0.2},{"d":"2013-01-27","v":1.6},{"d":"2013-01-30","v":2.9},{"d":"2013-02-03","v":3.0},{"d":"2013-02-07","v":4.3},{"d":"2013-02-11","v":3.0},{"d":"2013-02-16","v":3.2},{"d":"2013-02-21","v":4.8},{"d":"2013-02-25","v":5.9},{"d":"2013-03-01","v":4.8},{"d":"2013-03-06","v":5.5},{"d":"2013-03-10","v":6.1},{"d":"2013-03-14","v":5.5},{"d":"2013-03-18","v":6.1},{"d":"2013-03-22","v":4.6},{"d":"2013-03-26","v":5.7},{"d":"2013-03-30","v":5.9},{"d":"2013-04-01","v":3.4},{"d":"2013-04-04","v":0.9},{"d":"2013-04-08","v":0.4},{"d":"2013-04-15","v":0.5},{"d":"2013-04-20","v":-0.2},{"d":"2013-04-24","v":0.0},{"d":"2013-04-28","v":0.4},{"d":"2013-05-03","v":-0.4},{"d":"2013-05-07","v":-1.25},{"d":"2013-05-11","v":-1.6},{"d":"2013-05-16","v":-1.8},{"d":"2013-05-19","v":-1.4},{"d":"2013-05-23","v":-2.7},{"d":"2013-05-27","v":-2.9},{"d":"2013-06-01","v":-2.0},{"d":"2013-06-05","v":-3.0},{"d":"2013-06-09","v":-3.2},{"d":"2013-06-14","v":-3.6},{"d":"2013-06-18","v":-3.75},{"d":"2013-06-22","v":-3.6},{"d":"2013-06-26","v":-2.9},{"d":"2013-06-30","v":-2.1},{"d":"2013-07-04","v":-2.7},{"d":"2013-07-08","v":-3.0},{"d":"2013-07-12","v":-3.6},{"d":"2013-07-15","v":-3.4},{"d":"2013-07-20","v":-3.6},{"d":"2013-07-24","v":-2.9},{"d":"2013-07-28","v":-2.3},{"d":"2013-08-02","v":-1.8},{"d":"2013-08-06","v":-1.4},{"d":"2013-08-11","v":-0.5},{"d":"2013-08-15","v":-0.2},{"d":"2013-08-19","v":0.2},{"d":"2013-08-24","v":-0.2},{"d":"2013-08-28","v":0.4},{"d":"2013-09-01","v":-0.2},{"d":"2013-09-06","v":0.2},{"d":"2013-09-10","v":-0.2},{"d":"2013-09-15","v":0.0},{"d":"2013-09-19","v":-0.7},{"d":"2013-09-24","v":-1.6},{"d":"2013-09-28","v":-1.25},{"d":"2013-10-01","v":4.6},{"d":"2013-10-03","v":-0.9},{"d":"2013-10-07","v":-0.4},{"d":"2013-10-11","v":-0.2},{"d":"2013-10-15","v":0.2},{"d":"2013-10-20","v":1.0},{"d":"2013-10-24","v":0.4},{"d":"2013-10-28","v":0.5},{"d":"2013-11-02","v":0.0},{"d":"2013-11-06","v":0.2},{"d":"2013-11-11","v":1.0},{"d":"2013-11-16","v":0.2},{"d":"2013-11-19","v":0.0},{"d":"2013-11-24","v":0.4},{"d":"2013-11-28","v":0.0},{"d":"2013-12-02","v":0.2},{"d":"2013-12-07","v":-0.2},{"d":"2013-12-11","v":0.0},{"d":"2013-12-15","v":-0.2},{"d":"2013-12-19","v":0.0},{"d":"2013-12-24","v":-0.2},{"d":"2013-12-28","v":-0.5},{"d":"2014-01-01","v":0.0},{"d":"2014-01-06","v":0.2},{"d":"2014-01-10","v":-0.4},{"d":"2014-01-15","v":-0.2},{"d":"2014-01-20","v":-0.5},{"d":"2014-01-24","v":-0.4},{"d":"2014-01-28","v":-0.5},{"d":"2014-02-01","v":-0.9},{"d":"2014-02-05","v":-0.2},{"d":"2014-02-10","v":-0.4},{"d":"2014-02-15","v":0.0},{"d":"2014-02-19","v":-0.2},{"d":"2014-02-24","v":0.5},{"d":"2014-02-28","v":1.2},{"d":"2014-03-04","v":1.1},{"d":"2014-03-08","v":1.4},{"d":"2014-03-13","v":1.25},{"d":"2014-03-15","v":1.6},{"d":"2014-03-19","v":2.0},{"d":"2014-03-24","v":2.5},{"d":"2014-03-28","v":3.2},{"d":"2014-04-01","v":3.75},{"d":"2014-04-06","v":3.4},{"d":"2014-04-10","v":3.0},{"d":"2014-04-15","v":2.5},{"d":"2014-04-19","v":2.0},{"d":"2014-04-23","v":2.0},{"d":"2014-04-28","v":1.8},{"d":"2014-05-02","v":1.6},{"d":"2014-05-06","v":1.8},{"d":"2014-05-11","v":1.6},{"d":"2014-05-15","v":1.8},{"d":"2014-05-19","v":2.0},{"d":"2014-05-24","v":1.6},{"d":"2014-05-28","v":1.4},{"d":"2014-06-01","v":1.8},{"d":"2014-06-06","v":1.1},{"d":"2014-06-10","v":1.6},{"d":"2014-06-15","v":2.0},{"d":"2014-06-19","v":1.1},{"d":"2014-06-24","v":0.9},{"d":"2014-06-28","v":1.4},{"d":"2014-07-02","v":1.4},{"d":"2014-07-07","v":1.6},{"d":"2014-07-11","v":1.6},{"d":"2014-07-15","v":1.4},{"d":"2014-07-19","v":1.6},{"d":"2014-07-23","v":1.7},{"d":"2014-07-28","v":1.6},{"d":"2014-08-01","v":1.8},{"d":"2014-08-05","v":1.6},{"d":"2014-08-10","v":1.3},{"d":"2014-08-15","v":1.8},{"d":"2014-08-19","v":1.4},{"d":"2014-08-23","v":1.6},{"d":"2014-08-28","v":1.8},{"d":"2014-09-01","v":2.0},{"d":"2014-09-05","v":2.1},{"d":"2014-09-10","v":1.8},{"d":"2014-09-15","v":1.6},{"d":"2014-09-19","v":1.8},{"d":"2014-09-24","v":1.6},{"d":"2014-09-28","v":1.5},{"d":"2014-10-01","v":7.0},{"d":"2014-10-03","v":4.3},{"d":"2014-10-07","v":4.3},{"d":"2014-10-12","v":4.4},{"d":"2014-10-16","v":4.5},{"d":"2014-10-21","v":4.4},{"d":"2014-10-26","v":4.5},{"d":"2014-10-30","v":4.5},{"d":"2014-11-03","v":4.5},{"d":"2014-11-27","v":4.8},{"d":"2014-11-30","v":5.0},{"d":"2014-12-04","v":5.5},{"d":"2014-12-08","v":5.25},{"d":"2014-12-13","v":5.7},{"d":"2014-12-17","v":5.5},{"d":"2014-12-21","v":5.9},{"d":"2014-12-25","v":5.5},{"d":"2014-12-30","v":5.0},{"d":"2015-01-03","v":4.6},{"d":"2015-01-08","v":4.1},{"d":"2015-01-12","v":4.1},{"d":"2015-01-16","v":5.0},{"d":"2015-01-21","v":4.1},{"d":"2015-01-26","v":3.9},{"d":"2015-01-30","v":3.75},{"d":"2015-02-03","v":3.4},{"d":"2015-02-08","v":2.7},{"d":"2015-02-12","v":3.0},{"d":"2015-02-16","v":3.4},{"d":"2015-02-21","v":2.5},{"d":"2015-02-25","v":3.2},{"d":"2015-03-02","v":2.5},{"d":"2015-03-05","v":5.0},{"d":"2015-03-08","v":3.9},{"d":"2015-03-11","v":3.4},{"d":"2015-03-13","v":3.6},{"d":"2015-03-16","v":2.9},{"d":"2015-03-19","v":2.3},{"d":"2015-03-22","v":2.0},{"d":"2015-03-25","v":1.25},{"d":"2015-03-29","v":0.2},{"d":"2015-04-01","v":-1.8}
    ]
  },
  "encoding": {
    "y": {
      "field": "v", "type": "quantitative",
      "scale": {"domain": [-10, 70], "nice": false, "zero": false},
      "axis": {
        "values": [-10, 0, 10, 20, 30, 40, 50, 60, 70],
        "labelExpr": "replace(format(datum.value, '.2f'), '\u2212', '-')",
        "title": "Mid price (GBP/MWh)",
        "labelFont": "Lato", "labelFontSize": 16, "labelColor": "#505050", "labelPadding": 8,
        "tickSize": 5, "tickColor": "#d9d9d9", "tickWidth": 1.5,
        "domainColor": "#bfbfbf", "domainWidth": 1.5,
        "grid": true, "gridColor": "#d9d9d9", "gridWidth": 1.5,
        "titleFont": "Lato", "titleFontSize": 14, "titleFontWeight": "bold", "titleColor": "#000000", "titlePadding": 10
      }
    }
  },
  "resolve": {"axis": {"x": "independent"}},
  "layer": [
    {
      "data": {"name": "diff"},
      "transform": [{"filter": "datum.v > 0"}],
      "mark": {"type": "bar", "width": 1.6},
      "encoding": {
        "x": {
          "field": "d", "type": "temporal",
          "scale": {"type": "utc", "domain": [{"year": 2009, "month": 12, "date": 14, "utc": true}, {"year": 2015, "month": 6, "date": 11, "utc": true}]},
          "axis": {
            "orient": "bottom", "offset": -93.4,
            "values": [
              {"year":2009,"month":12,"date":14,"utc":true},
              {"year":2010,"month":1,"date":14,"utc":true},{"year":2010,"month":2,"date":14,"utc":true},{"year":2010,"month":3,"date":14,"utc":true},{"year":2010,"month":4,"date":14,"utc":true},{"year":2010,"month":5,"date":14,"utc":true},{"year":2010,"month":6,"date":14,"utc":true},{"year":2010,"month":7,"date":14,"utc":true},{"year":2010,"month":8,"date":14,"utc":true},{"year":2010,"month":9,"date":14,"utc":true},{"year":2010,"month":10,"date":14,"utc":true},{"year":2010,"month":11,"date":14,"utc":true},{"year":2010,"month":12,"date":14,"utc":true},
              {"year":2011,"month":1,"date":14,"utc":true},{"year":2011,"month":2,"date":14,"utc":true},{"year":2011,"month":3,"date":14,"utc":true},{"year":2011,"month":4,"date":14,"utc":true},{"year":2011,"month":5,"date":14,"utc":true},{"year":2011,"month":6,"date":14,"utc":true},{"year":2011,"month":7,"date":14,"utc":true},{"year":2011,"month":8,"date":14,"utc":true},{"year":2011,"month":9,"date":14,"utc":true},{"year":2011,"month":10,"date":14,"utc":true},{"year":2011,"month":11,"date":14,"utc":true},{"year":2011,"month":12,"date":14,"utc":true},
              {"year":2012,"month":1,"date":14,"utc":true},{"year":2012,"month":2,"date":14,"utc":true},{"year":2012,"month":3,"date":14,"utc":true},{"year":2012,"month":4,"date":14,"utc":true},{"year":2012,"month":5,"date":14,"utc":true},{"year":2012,"month":6,"date":14,"utc":true},{"year":2012,"month":7,"date":14,"utc":true},{"year":2012,"month":8,"date":14,"utc":true},{"year":2012,"month":9,"date":14,"utc":true},{"year":2012,"month":10,"date":14,"utc":true},{"year":2012,"month":11,"date":14,"utc":true},{"year":2012,"month":12,"date":14,"utc":true},
              {"year":2013,"month":1,"date":14,"utc":true},{"year":2013,"month":2,"date":14,"utc":true},{"year":2013,"month":3,"date":14,"utc":true},{"year":2013,"month":4,"date":14,"utc":true},{"year":2013,"month":5,"date":14,"utc":true},{"year":2013,"month":6,"date":14,"utc":true},{"year":2013,"month":7,"date":14,"utc":true},{"year":2013,"month":8,"date":14,"utc":true},{"year":2013,"month":9,"date":14,"utc":true},{"year":2013,"month":10,"date":14,"utc":true},{"year":2013,"month":11,"date":14,"utc":true},{"year":2013,"month":12,"date":14,"utc":true},
              {"year":2014,"month":1,"date":14,"utc":true},{"year":2014,"month":2,"date":14,"utc":true},{"year":2014,"month":3,"date":14,"utc":true},{"year":2014,"month":4,"date":14,"utc":true},{"year":2014,"month":5,"date":14,"utc":true},{"year":2014,"month":6,"date":14,"utc":true},{"year":2014,"month":7,"date":14,"utc":true},{"year":2014,"month":8,"date":14,"utc":true},{"year":2014,"month":9,"date":14,"utc":true},{"year":2014,"month":10,"date":14,"utc":true},{"year":2014,"month":11,"date":14,"utc":true},{"year":2014,"month":12,"date":14,"utc":true},
              {"year":2015,"month":1,"date":14,"utc":true},{"year":2015,"month":2,"date":14,"utc":true},{"year":2015,"month":3,"date":14,"utc":true},{"year":2015,"month":4,"date":14,"utc":true},{"year":2015,"month":5,"date":14,"utc":true}
            ],
            "labelExpr": "utcFormat(datum.value, '%d/%m/%Y')",
            "labelAngle": -90, "labelFont": "Lato", "labelFontSize": 15, "labelColor": "#000000", "labelPadding": 3,
            "labelOverlap": false, "labelFlush": false, "labelBound": false,
            "tickSize": 5, "tickColor": "#bfbfbf", "tickWidth": 1.5,
            "domainColor": "#bfbfbf", "domainWidth": 1.5, "grid": false,
            "title": "Delivery date", "titleFont": "Lato", "titleFontSize": 14, "titleFontWeight": "bold", "titleColor": "#000000", "titlePadding": 9
          }
        },
        "color": {
          "datum": "Gain if sold 2S ahead (compared to ref.p.)",
          "scale": {
            "domain": ["Gain if sold 2S ahead (compared to ref.p.)", "2 Seasons ahead", "1 Season ahead", "Simulated reference price", "Difference if sold 2S ahead (compared to ref.p.)"],
            "range": ["#9bbb59", "#4f81bd", "#c0504d", "#000000", "#9bbb59"]
          },
          "legend": {
            "orient": "none", "legendX": 28, "legendY": 833, "direction": "horizontal", "title": null,
            "labelFont": "Lato", "labelFontSize": 20, "labelColor": "#000000", "labelLimit": 800, "labelOffset": 5,
            "columnPadding": 42, "symbolSize": 256, "symbolType": "stroke", "symbolStrokeWidth": 4,
            "encode": {
              "symbols": {
                "update": {
                  "shape": {"signal": "datum.value === 'Gain if sold 2S ahead (compared to ref.p.)' ? 'square' : 'stroke'"},
                  "fill": {"scale": "color", "field": "value"},
                  "stroke": {"scale": "color", "field": "value"},
                  "strokeWidth": {"signal": "datum.value === 'Gain if sold 2S ahead (compared to ref.p.)' ? 0 : 4"},
                  "size": {"signal": "datum.value === 'Gain if sold 2S ahead (compared to ref.p.)' ? 169 : 256"},
                  "opacity": {"value": 1}
                }
              }
            }
          }
        }
      }
    },
    {
      "data": {"name": "blue"},
      "mark": {"type": "line", "strokeWidth": 2.5},
      "encoding": {
        "x": {
          "field": "d", "type": "temporal",
          "axis": {
            "orient": "bottom", "labels": false, "ticks": false, "domain": false, "grid": false,
            "title": "Source: Bloomberg ELUBS1 OECM, ELUBS2 OECM; UK REQ",
            "titleAnchor": "end", "titleAlign": "right", "titleX": 1661, "titleFont": "Lato", "titleFontSize": 15.3, "titleFontWeight": "normal", "titleColor": "#000000", "titlePadding": 16
          }
        },
        "color": {"datum": "2 Seasons ahead"}
      }
    },
    {
      "data": {"name": "red"},
      "mark": {"type": "line", "strokeWidth": 2.5},
      "encoding": {
        "x": {"field": "d", "type": "temporal", "axis": null},
        "color": {"datum": "1 Season ahead"}
      }
    },
    {
      "data": {"name": "ref"},
      "mark": {"type": "line", "strokeWidth": 3, "interpolate": "step-after"},
      "encoding": {
        "x": {"field": "d", "type": "temporal", "axis": null},
        "color": {"datum": "Simulated reference price"}
      }
    },
    {
      "data": {"name": "diff"},
      "mark": {"type": "line", "strokeWidth": 2},
      "encoding": {
        "x": {"field": "d", "type": "temporal", "axis": null},
        "color": {"datum": "Difference if sold 2S ahead (compared to ref.p.)"}
      }
    }
  ]
}
